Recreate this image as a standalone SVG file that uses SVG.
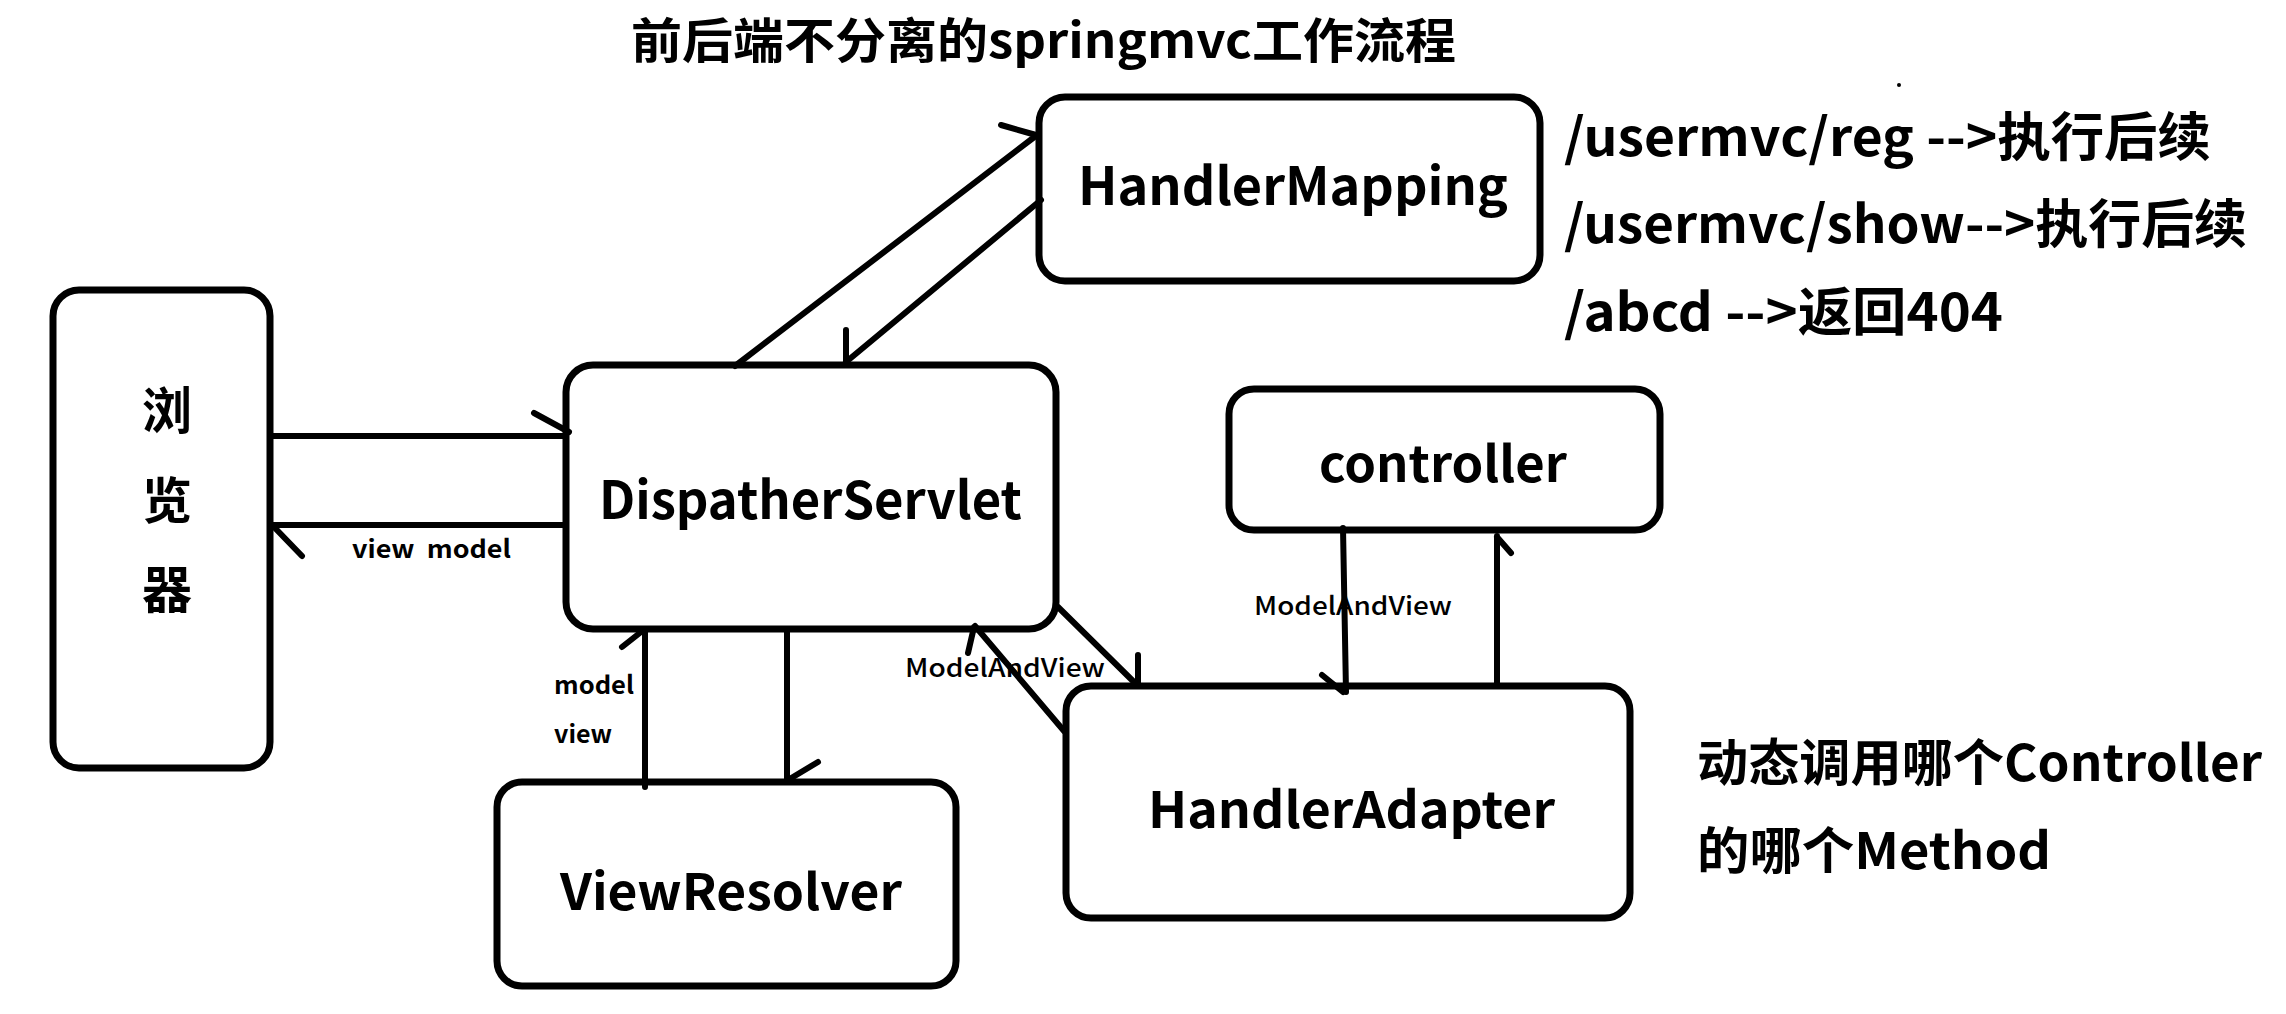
<svg xmlns="http://www.w3.org/2000/svg" width="2286" height="1014" viewBox="0 0 2286 1014">
<style>
.box{fill:#fff;stroke:#000;stroke-width:7}
.con{fill:none;stroke:#000;stroke-width:6;stroke-linecap:round;stroke-linejoin:round}
.t{font-family:"Noto Sans CJK SC","Liberation Sans",sans-serif;font-weight:bold;fill:#000}
.big{font-size:50px}
.sm{font-size:25px}
.reg{font-weight:500}
</style>
<rect width="2286" height="1014" fill="#fff"/>
<text class="t" x="631" y="58" font-size="48" textLength="825" lengthAdjust="spacingAndGlyphs">前后端不分离的springmvc工作流程</text>
<circle cx="1899" cy="85" r="2" fill="#000"/>
<g id="browser">
<rect class="box" x="53" y="290" width="217" height="478" rx="26"/>
<text class="t big" x="167" y="429" text-anchor="middle">浏</text>
<text class="t big" x="167" y="519" text-anchor="middle">览</text>
<text class="t big" x="167" y="608" text-anchor="middle">器</text>
</g>
<g id="dispatcher">
<rect class="box" x="566" y="365" width="490" height="264" rx="27"/>
<text class="t" font-size="52" x="599" y="519" textLength="423" lengthAdjust="spacingAndGlyphs">DispatherServlet</text>
</g>
<g id="handlermapping">
<rect class="box" x="1039" y="97" width="501" height="184" rx="26"/>
<text class="t" font-size="52" x="1078" y="205" textLength="430" lengthAdjust="spacingAndGlyphs">HandlerMapping</text>
</g>
<g id="controller">
<rect class="box" x="1229" y="389" width="431" height="141" rx="25"/>
<text class="t big" x="1319" y="482" textLength="248" lengthAdjust="spacingAndGlyphs">controller</text>
</g>
<g id="viewresolver">
<rect class="box" x="497" y="782" width="459" height="204" rx="25"/>
<text class="t big" x="560" y="910" textLength="342" lengthAdjust="spacingAndGlyphs">ViewResolver</text>
</g>
<g id="handleradapter">
<rect class="box" x="1066" y="686" width="564" height="232" rx="25"/>
<text class="t big" x="1148" y="828" textLength="407" lengthAdjust="spacingAndGlyphs">HandlerAdapter</text>
</g>
<g id="notes">
<text class="t" font-size="52" x="1564" y="156" textLength="647" lengthAdjust="spacingAndGlyphs">/usermvc/reg --&gt;执行后续</text>
<text class="t" font-size="52" x="1564" y="243" textLength="683" lengthAdjust="spacingAndGlyphs">/usermvc/show--&gt;执行后续</text>
<text class="t" font-size="52" x="1564" y="331" textLength="439" lengthAdjust="spacingAndGlyphs">/abcd --&gt;返回404</text>
<text class="t" font-size="50" x="1697" y="781" textLength="565" lengthAdjust="spacingAndGlyphs">动态调用哪个Controller</text>
<text class="t" font-size="50" x="1697" y="869" textLength="354" lengthAdjust="spacingAndGlyphs">的哪个Method</text>
</g>
<g id="connectors">
<path class="con" d="M272,436 H566 M534,413 L569,432"/>
<path class="con" d="M566,525 H272 M274,527 L302,556"/>
<path class="con" d="M735,366 L1037,135 M1001,125 L1036,135"/>
<path class="con" d="M1041,200 L846,362 M846,330 V362"/>
<path class="con" d="M787,630 V780 M818,762 L788,780"/>
<path class="con" d="M645,787 V630 M622,647 L641,632"/>
<path class="con" d="M1058,607 L1136,684 M1138,655 V686"/>
<path class="con" d="M1064,731 L975,626 M968,653 L974,627"/>
<path class="con" d="M1343,528 L1346,692 M1322,675 L1343,692"/>
<path class="con" d="M1497,684 V536 M1511,553 L1497,537"/>
<text class="t sm" x="352" y="558" textLength="159" lengthAdjust="spacingAndGlyphs" style="white-space:pre">view  model</text>
<text class="t sm" x="554" y="694" textLength="80" lengthAdjust="spacingAndGlyphs">model</text>
<text class="t sm" x="554" y="743" textLength="58" lengthAdjust="spacingAndGlyphs">view</text>
<text class="t sm reg" x="905" y="677" textLength="200" lengthAdjust="spacingAndGlyphs">ModelAndView</text>
<text class="t sm reg" x="1254" y="615" textLength="198" lengthAdjust="spacingAndGlyphs">ModelAndView</text>
</g>
</svg>
